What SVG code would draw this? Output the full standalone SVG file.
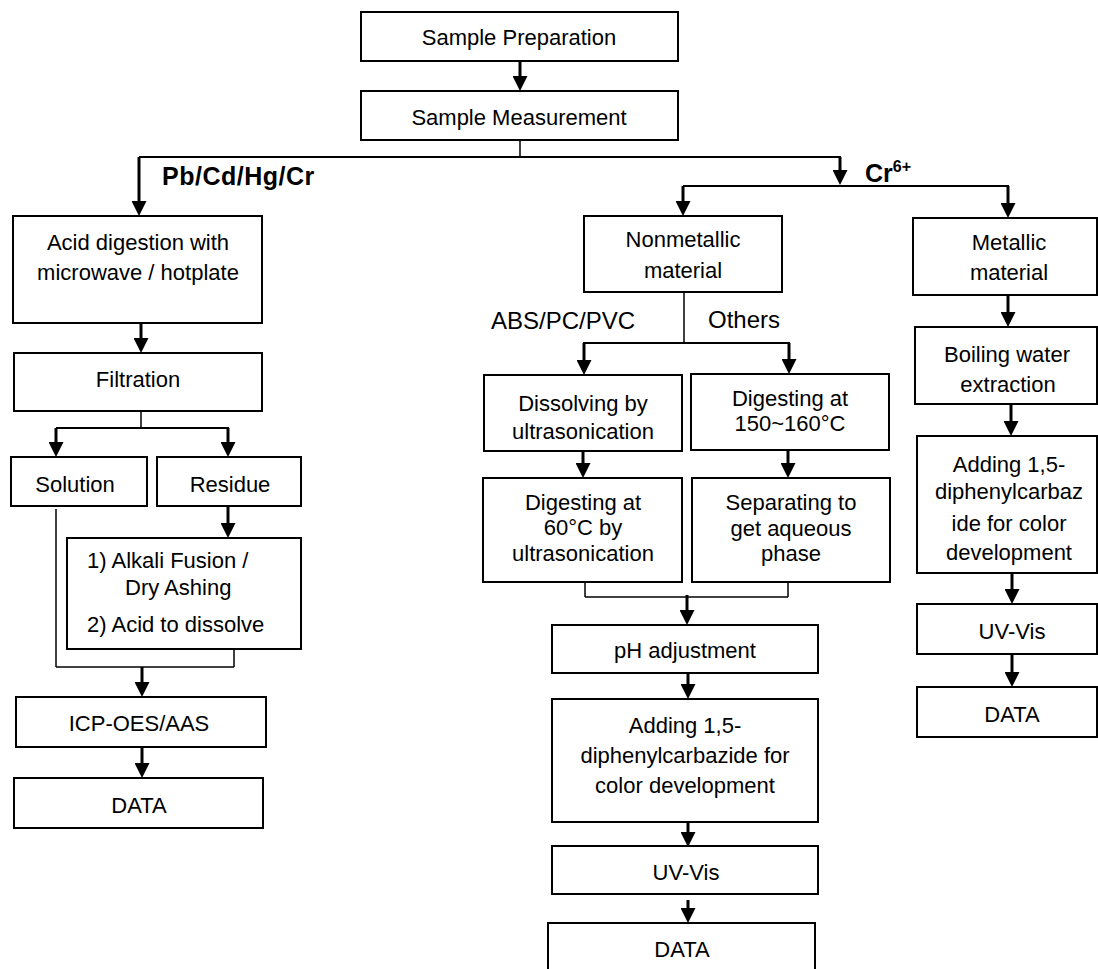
<svg xmlns="http://www.w3.org/2000/svg" width="1098" height="969" viewBox="0 0 1098 969">
<defs>
<style>
.box{fill:#fff;stroke:#000;stroke-width:2}
.t{font-family:"Liberation Sans",Arial,Helvetica,sans-serif;font-size:22px;fill:#000;text-anchor:middle}
.ts{text-anchor:start}
.lbl{font-family:"Liberation Sans",Arial,Helvetica,sans-serif;font-size:24px;fill:#000}
.bold{font-weight:bold;font-size:25px}
.ln{fill:none;stroke:#000;stroke-width:2}
.thin{fill:none;stroke:#000;stroke-width:1.5}
.ar{fill:none;stroke:#000;stroke-width:3;marker-end:url(#ah)}
</style>
<marker id="ah" markerUnits="userSpaceOnUse" markerWidth="15" markerHeight="15" refX="2" refY="7.5" orient="auto">
<path d="M0,0 L15,7.5 L0,15 Z" fill="#000"/>
</marker>
</defs>
<rect width="1098" height="969" fill="#fff"/>

<g id="connectors">
<line class="ar" x1="520" y1="61" x2="520" y2="78"/>
<line class="thin" x1="520" y1="140" x2="520" y2="157"/>
<line class="ln" x1="139" y1="157" x2="841" y2="157"/>
<line class="ar" x1="139" y1="157" x2="139" y2="203"/>
<line class="ar" x1="840" y1="157" x2="840" y2="172"/>
<line class="ln" x1="683" y1="186" x2="1009" y2="186"/>
<line class="ar" x1="683" y1="186" x2="683" y2="203"/>
<line class="ar" x1="1008" y1="186" x2="1008" y2="205"/>
<line class="ar" x1="141" y1="323" x2="141" y2="340"/>
<line class="thin" x1="141" y1="411" x2="141" y2="428"/>
<line class="ln" x1="56" y1="428" x2="229" y2="428"/>
<line class="ar" x1="56" y1="428" x2="56" y2="444"/>
<line class="ar" x1="228" y1="428" x2="228" y2="444"/>
<line class="ar" x1="228" y1="506" x2="228" y2="525"/>
<line class="thin" x1="56" y1="509" x2="56" y2="667"/>
<line class="thin" x1="234" y1="649" x2="234" y2="667"/>
<line class="thin" x1="56" y1="667" x2="234" y2="667"/>
<line class="ar" x1="142" y1="667" x2="142" y2="684"/>
<line class="ar" x1="142" y1="747" x2="142" y2="765"/>
<line class="thin" x1="684" y1="292" x2="684" y2="343"/>
<line class="ln" x1="583" y1="343" x2="790" y2="343"/>
<line class="ar" x1="584" y1="343" x2="584" y2="362"/>
<line class="ar" x1="789" y1="343" x2="789" y2="361"/>
<line class="ar" x1="583" y1="451" x2="583" y2="465"/>
<line class="ar" x1="788" y1="450" x2="788" y2="465"/>
<line class="thin" x1="585" y1="582" x2="585" y2="597"/>
<line class="thin" x1="788" y1="582" x2="788" y2="597"/>
<line class="thin" x1="585" y1="597" x2="788" y2="597"/>
<line class="ar" x1="687" y1="595" x2="687" y2="612"/>
<line class="ar" x1="688" y1="673" x2="688" y2="686"/>
<line class="ar" x1="688" y1="822" x2="688" y2="834"/>
<line class="ar" x1="688" y1="900" x2="688" y2="910"/>
<line class="ar" x1="1008" y1="295" x2="1008" y2="314"/>
<line class="ar" x1="1011" y1="404" x2="1011" y2="423"/>
<line class="ar" x1="1012" y1="573" x2="1012" y2="591"/>
<line class="ar" x1="1012" y1="654" x2="1012" y2="674"/>
</g>

<g id="labels">
<text class="lbl bold" x="162" y="185" letter-spacing="0.5">Pb/Cd/Hg/Cr</text>
<text class="lbl bold" x="865" y="182">Cr<tspan font-size="16" dy="-10">6+</tspan></text>
<text class="lbl" x="491" y="329">ABS/PC/PVC</text>
<text class="lbl" x="708" y="328">Others</text>
</g>

<g id="n-sample-prep"><rect class="box" x="361" y="12" width="317" height="49"/><text class="t" x="519" y="45">Sample Preparation</text></g>
<g id="n-sample-meas"><rect class="box" x="361" y="91" width="317" height="49"/><text class="t" x="519" y="125">Sample Measurement</text></g>

<g id="n-acid"><rect class="box" x="13" y="216" width="249" height="107"/><text class="t" x="138" y="250">Acid digestion with</text><text class="t" x="138" y="280">microwave / hotplate</text></g>
<g id="n-filtration"><rect class="box" x="14" y="353" width="248" height="58"/><text class="t" x="138" y="387">Filtration</text></g>
<g id="n-solution"><rect class="box" x="11" y="457" width="136" height="49"/><text class="t" x="75" y="492">Solution</text></g>
<g id="n-residue"><rect class="box" x="157" y="457" width="144" height="49"/><text class="t" x="230" y="492">Residue</text></g>
<g id="n-alkali"><rect class="box" x="67" y="538" width="234" height="111"/><text class="t ts" x="87" y="568">1) Alkali Fusion /</text><text class="t ts" x="125" y="595">Dry Ashing</text><text class="t ts" x="87" y="632">2) Acid to dissolve</text></g>
<g id="n-icp"><rect class="box" x="16" y="697" width="250" height="50"/><text class="t" x="139" y="731">ICP-OES/AAS</text></g>
<g id="n-data-left"><rect class="box" x="14" y="778" width="249" height="50"/><text class="t" x="139" y="813">DATA</text></g>

<g id="n-nonmetallic"><rect class="box" x="584" y="216" width="198" height="76"/><text class="t" x="683" y="247">Nonmetallic</text><text class="t" x="683" y="278">material</text></g>
<g id="n-dissolving"><rect class="box" x="484" y="375" width="198" height="76"/><text class="t" x="583" y="411">Dissolving by</text><text class="t" x="583" y="439">ultrasonication</text></g>
<g id="n-digest150"><rect class="box" x="691" y="374" width="198" height="76"/><text class="t" x="790" y="406">Digesting at</text><text class="t" x="790" y="431">150~160°C</text></g>
<g id="n-digest60"><rect class="box" x="483" y="478" width="199" height="104"/><text class="t" x="583" y="510">Digesting at</text><text class="t" x="583" y="535">60°C by</text><text class="t" x="583" y="561">ultrasonication</text></g>
<g id="n-separating"><rect class="box" x="692" y="478" width="198" height="104"/><text class="t" x="791" y="510">Separating to</text><text class="t" x="791" y="536">get aqueous</text><text class="t" x="791" y="561">phase</text></g>
<g id="n-ph"><rect class="box" x="552" y="625" width="266" height="48"/><text class="t" x="685" y="658" font-size="25">pH adjustment</text></g>
<g id="n-adding-mid"><rect class="box" x="552" y="699" width="266" height="123"/><text class="t" x="685" y="733">Adding 1,5-</text><text class="t" x="685" y="763">diphenylcarbazide for</text><text class="t" x="685" y="793">color development</text></g>
<g id="n-uvvis-mid"><rect class="box" x="552" y="846" width="266" height="48"/><text class="t" x="686" y="880">UV-Vis</text></g>
<g id="n-data-mid"><rect class="box" x="548" y="923" width="267" height="60"/><text class="t" x="682" y="957">DATA</text></g>

<g id="n-metallic"><rect class="box" x="913" y="218" width="184" height="77"/><text class="t" x="1009" y="250">Metallic</text><text class="t" x="1009" y="280">material</text></g>
<g id="n-boiling"><rect class="box" x="915" y="327" width="182" height="77"/><text class="t" x="1007" y="362" font-size="25">Boiling water</text><text class="t" x="1008" y="392" font-size="25">extraction</text></g>
<g id="n-adding-right"><rect class="box" x="917" y="436" width="180" height="137"/><text class="t" x="1009" y="472">Adding 1,5-</text><text class="t" x="1009" y="499">diphenylcarbaz</text><text class="t" x="1009" y="531">ide for color</text><text class="t" x="1009" y="560">development</text></g>
<g id="n-uvvis-right"><rect class="box" x="917" y="604" width="180" height="50"/><text class="t" x="1012" y="639">UV-Vis</text></g>
<g id="n-data-right"><rect class="box" x="917" y="687" width="180" height="50"/><text class="t" x="1012" y="722">DATA</text></g>
</svg>
